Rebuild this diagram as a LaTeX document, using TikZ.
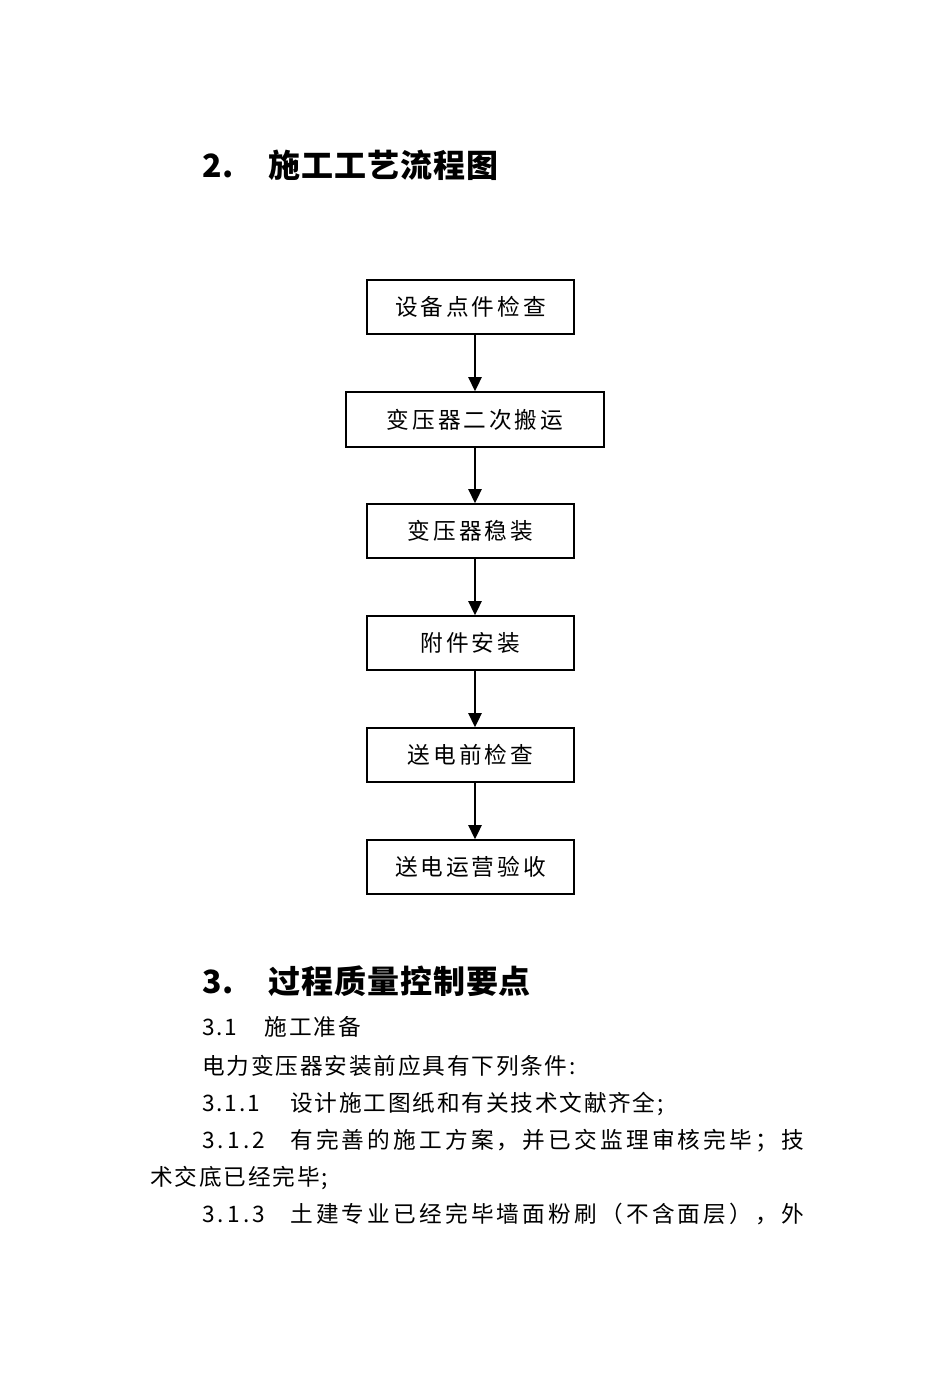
\documentclass[tikz,border=0pt]{standalone}
\usepackage{fontspec}
\newfontfamily\cjkbox[LetterSpace=13]{Noto Sans CJK SC}
\newfontfamily\cjktext[LetterSpace=8]{Noto Sans CJK SC}
\newfontfamily\cjkjust[LetterSpace=14]{Noto Sans CJK SC}
\newfontfamily\cjkhead[LetterSpace=3]{Noto Sans CJK SC}
\usetikzlibrary{
    positioning,
    arrows.meta,
    calc
}

\begin{document}
\begin{tikzpicture}[
                    x=0.75pt, y=-0.75pt,
                    every node/.style={inner sep=0pt},
                    stepbox/.style={draw, line width=1.3pt, minimum width=155.25pt,
                                    minimum height=40.5pt,
                                    font=\cjkbox\fontsize{17pt}{20pt}\selectfont},
                    widebox/.style={stepbox, minimum width=193.5pt, minimum height=41.25pt},
                    flowarrow/.style={line width=1.3pt, -{Triangle[length=10.5pt,width=10pt]}},
                    headtext/.style={anchor=base west,
                                     font=\cjkhead\bfseries\fontsize{24pt}{28pt}\selectfont},
                    bodytext/.style={anchor=base west,
                                     font=\cjktext\fontsize{17pt}{20pt}\selectfont},
                    justtext/.style={bodytext, font=\cjkjust\fontsize{17pt}{20pt}\selectfont},
                ]
                  \useasboundingbox (0,0) rectangle (950,1378);
                  \def\xLeft{202}

                  % ---- Heading 2 ----
                  \node[headtext] (head2) at (\xLeft,177) {\makebox[49.5pt][l]{2.}施工工艺流程图};

                  % ---- Flow chart ----
                  \node[stepbox] (check)   at (470.5,307)   {设备点件检查};
                  \node[widebox] (carry)   at (475,419.5)   {变压器二次搬运};
                  \node[stepbox] (mount)   at (470.5,531)   {变压器稳装};
                  \node[stepbox] (parts)   at (470.5,643)   {附件安装};
                  \node[stepbox] (precheck) at (470.5,755)  {送电前检查};
                  \node[stepbox] (accept)  at (470.5,867)   {送电运营验收};

                  % Arrows, all on the column of the wide box
                  \draw[flowarrow] (check.south -| carry.center) -- (carry.north);
                  \foreach \a/\b in {carry/mount, mount/parts, parts/precheck, precheck/accept}
                    \draw[flowarrow] (\a.south -| carry.center) -- (\b.north -| carry.center);

                  % ---- Heading 3 ----
                  \node[headtext] (head3) at (\xLeft,993) {\makebox[49.5pt][l]{3.}过程质量控制要点};

                  % Body lines
                  \node[bodytext] (sec31)  at (\xLeft,1035) {\makebox[47pt][l]{3.1}施工准备};
                  \node[bodytext] (cond)   at (\xLeft,1074) {电力变压器安装前应具有下列条件:};
                  \node[bodytext] (sec311) at (\xLeft,1111) {\makebox[66pt][l]{3.1.1}设计施工图纸和有关技术文献齐全;};
                  \node[justtext] (sec312) at (\xLeft,1148) {\makebox[66pt][l]{3.1.2}有完善的施工方案，并已交监理审核完毕；技};
                  \node[bodytext] (sec312b) at (150,1185) {术交底已经完毕;};
                  \node[justtext] (sec313) at (\xLeft,1222) {\makebox[66pt][l]{3.1.3}土建专业已经完毕墙面粉刷（不含面层），外};
                \end{tikzpicture}
\end{document}
